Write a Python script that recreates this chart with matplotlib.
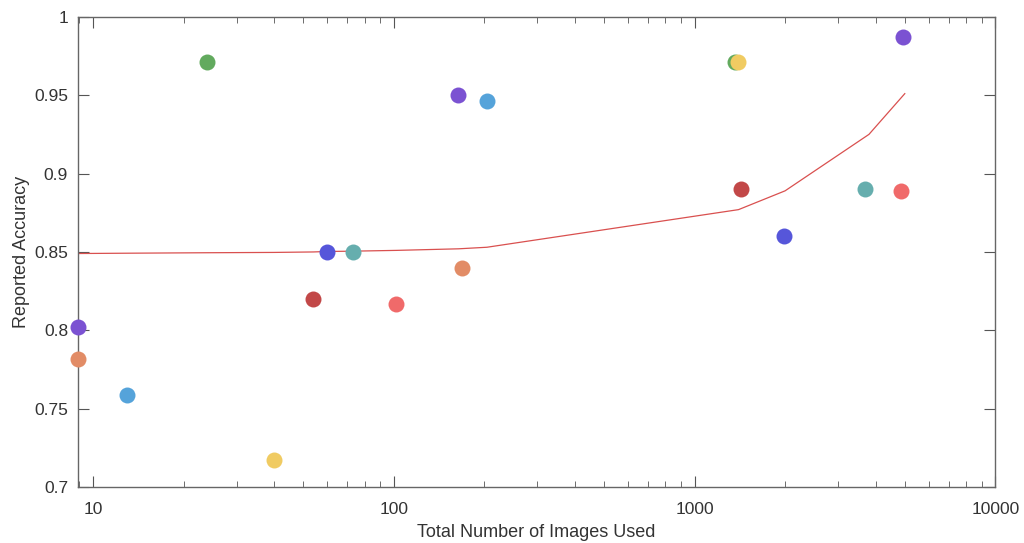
import matplotlib.pyplot as plt
import numpy as np

plt.rcParams['font.family'] = ['Liberation Sans', 'DejaVu Sans']

# study points: total images vs reported accuracy
images = [8.9, 8.9, 13, 24, 40, 54, 60, 73, 102, 164, 168, 204, 1360, 1390, 1430, 1990, 3700, 4850, 4950]
accuracy = [0.802, 0.782, 0.759, 0.971, 0.717, 0.82, 0.85, 0.85, 0.817, 0.95, 0.84, 0.946, 0.971, 0.971, 0.89, 0.86, 0.89, 0.889, 0.987]
colors = ['#7B52D2', '#E28C66', '#55A3DA', '#62AA5E', '#F0CB62', '#C24848', '#5656DA', '#66AEAE', '#F06A6A',
          '#7B52D2', '#E28C66', '#55A3DA', '#62AA5E', '#F0CB62', '#C24848', '#5656DA', '#66AEAE', '#F06A6A', '#7B52D2']

# fitted trend line
fit_x = [8.9, 13, 24, 40, 54, 60, 73, 102, 164, 204, 1400, 2000, 3800, 5000]
fit_y = [0.849, 0.8492, 0.8495, 0.8497, 0.85, 0.8503, 0.8505, 0.851, 0.852, 0.853, 0.877, 0.889, 0.925, 0.951]

fig = plt.figure(figsize=(10.24, 5.43), dpi=100)
ax = fig.add_axes([0.076, 0.103, 0.896, 0.866])

ax.plot(fit_x, fit_y, color='#D9504F', linewidth=0.9, zorder=2)
for xi, yi, c in zip(images, accuracy, colors):
    ax.plot(xi, yi, 'o', color=c, markersize=11.5, markeredgewidth=0, zorder=3, clip_on=False)

ax.set_xscale('log')
ax.set_xlim(8.9, 10000)
ax.set_ylim(0.7, 1.0)
ax.set_yticks([0.7, 0.75, 0.8, 0.85, 0.9, 0.95, 1.0])
ax.set_yticklabels(['0.7', '0.75', '0.8', '0.85', '0.9', '0.95', '1'])
ax.set_xticks([10, 100, 1000, 10000])
ax.set_xticklabels(['10', '100', '1000', '10000'])

ax.tick_params(which='both', direction='in', top=True, right=True, colors='#555555',
               labelcolor='#333333', labelsize=12.5)
ax.tick_params(which='major', length=8)
ax.tick_params(which='minor', length=4)
ax.tick_params(axis='x', which='major', pad=11)
ax.tick_params(axis='y', which='major', pad=7)
for s in ax.spines.values():
    s.set_color('#666666')
    s.set_linewidth(1.0)

ax.set_xlabel('Total Number of Images Used', fontsize=13, color='#333333', labelpad=5)
ax.set_ylabel('Reported Accuracy', fontsize=13, color='#333333', labelpad=3)

plt.savefig('out.png', dpi=100)
